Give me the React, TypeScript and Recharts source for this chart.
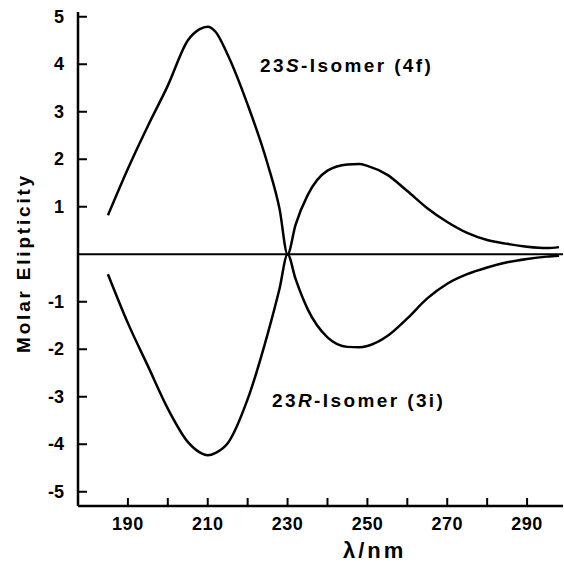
import { LineChart, Line, XAxis, YAxis, ReferenceLine } from 'recharts'

// wavelength (nm)
const lambda = [185, 190, 195, 200, 205, 208, 210, 212, 215, 220, 225, 228, 230, 232, 235, 240, 245, 248, 250, 255, 260, 265, 270, 275, 280, 285, 290, 295, 298]
// 23S-isomer (4f)
const isomerS = [0.82, 1.8, 2.7, 3.55, 4.5, 4.74, 4.79, 4.68, 4.2, 3.15, 1.9, 0.95, 0, 0.62, 1.24, 1.76, 1.89, 1.9, 1.86, 1.67, 1.33, 0.97, 0.68, 0.45, 0.3, 0.22, 0.16, 0.13, 0.15]
// 23R-isomer (3i)
const isomerR = [-0.42, -1.45, -2.35, -3.25, -3.95, -4.17, -4.23, -4.18, -3.98, -3.05, -1.68, -0.72, 0, -0.52, -1.15, -1.75, -1.95, -1.96, -1.93, -1.72, -1.35, -0.93, -0.62, -0.42, -0.28, -0.17, -0.1, -0.05, -0.03]

const xTicks = [190, 200, 210, 220, 230, 240, 250, 260, 270, 280, 290]
const xLabels = [190, 210, 230, 250, 270, 290]
const yTicks = [-5, -4, -3, -2, -1, 1, 2, 3, 4, 5]

const data = lambda.map((x, i) => ({ x, s: isomerS[i], r: isomerR[i] }))

const FONT = '"Liberation Sans", Arial, sans-serif'

const XTick = ({ x, y, payload }: any) => (
  <g>
    <line x1={x} x2={x} y1={y} y2={y - 8} stroke="#000" strokeWidth={2} />
    {xLabels.includes(payload.value) && (
      <text x={x} y={y + 24} textAnchor="middle" fontFamily={FONT} fontWeight="bold" fontSize={18} letterSpacing={0.5} fill="#000">
        {payload.value}
      </text>
    )}
  </g>
)

const YTick = ({ x, y, payload }: any) => (
  <g>
    <line x1={x} x2={x + 9} y1={y} y2={y} stroke="#000" strokeWidth={2} />
    <text x={x - 14} y={y + 6} textAnchor="end" fontFamily={FONT} fontWeight="bold" fontSize={18} fill="#000">
      {payload.value < 0 ? `-${Math.abs(payload.value)}` : payload.value}
    </text>
  </g>
)

export default function App() {
  return (
    <div style={{ position: 'absolute', left: 0, top: 0, width: 564, height: 564, background: '#fff' }}>
      <LineChart width={564} height={564} data={data} margin={{ top: 12, right: 1, left: 0, bottom: 0 }}>
        <XAxis
          dataKey="x"
          type="number"
          domain={[177.5, 299]}
          ticks={xTicks}
          height={58}
          tickSize={0}
          tickMargin={0}
          tick={<XTick />}
          axisLine={{ stroke: '#000', strokeWidth: 2.5 }}
          allowDataOverflow
        />
        <YAxis
          type="number"
          domain={[-5.3, 5.1]}
          ticks={yTicks}
          width={78}
          tickSize={0}
          tickMargin={0}
          tick={<YTick />}
          axisLine={{ stroke: '#000', strokeWidth: 2.5 }}
          allowDataOverflow
        />
        <ReferenceLine y={0} stroke="#000" strokeWidth={2} />
        <Line type="monotone" dataKey="s" stroke="#000" strokeWidth={2.5} dot={false} isAnimationActive={false} />
        <Line type="monotone" dataKey="r" stroke="#000" strokeWidth={2.5} dot={false} isAnimationActive={false} />
      </LineChart>

      {/* annotations */}
      <div style={{ position: 'absolute', left: 260, top: 55, fontFamily: FONT, fontWeight: 'bold', fontSize: 19, letterSpacing: 2.4 }}>
        23<i>S</i>-Isomer (4f)
      </div>
      <div style={{ position: 'absolute', left: 272, top: 390, fontFamily: FONT, fontWeight: 'bold', fontSize: 19, letterSpacing: 2.4 }}>
        23<i>R</i>-Isomer (3i)
      </div>

      {/* axis titles */}
      <div style={{ position: 'absolute', left: 343, top: 538, fontFamily: FONT, fontWeight: 'bold', fontSize: 22, letterSpacing: 3 }}>
        λ/nm
      </div>
      <div
        style={{
          position: 'absolute',
          left: 24,
          top: 263,
          transform: 'translate(-50%, -50%) rotate(-90deg)',
          whiteSpace: 'nowrap',
          fontFamily: FONT,
          fontWeight: 'bold',
          fontSize: 19,
          letterSpacing: 2.8,
        }}
      >
        Molar Elipticity
      </div>
    </div>
  )
}
